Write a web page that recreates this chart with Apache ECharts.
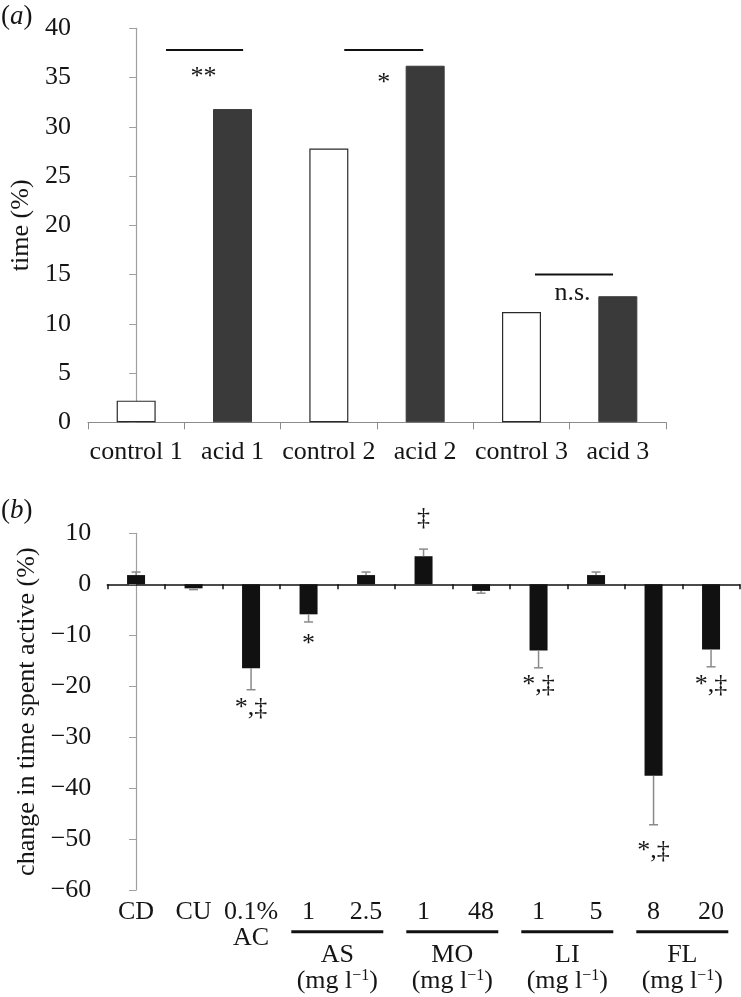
<!DOCTYPE html>
<html>
<head>
<meta charset="utf-8">
<script src="https://cdn.jsdelivr.net/npm/echarts@6/dist/echarts.min.js"></script>
<style>
html,body{margin:0;padding:0;background:#fff;}
#c{width:741px;height:997px;}
</style>
</head>
<body>
<div id="c"></div>
<script>
// ---------- Panel (a) data ----------
const catsA = ['control 1', 'acid 1', 'control 2', 'acid 2', 'control 3', 'acid 3'];
const valuesA = [2.2, 31.8, 27.8, 36.2, 11.2, 12.8];
const isAcidA = [false, true, false, true, false, true];
const yTicksA = { min: 0, max: 40, interval: 5 };
// significance bars: [xStart, xEnd, y] in category-index units
const sigLinesA = [[0.31, 1.11, 37.8], [2.16, 2.98, 37.8], [4.14, 4.95, 15.0]];
const sigTextA = ['**', '*', 'n.s.'];
const sigTextXA = [0.70, 2.57, 4.53];
const sigTextYA = [35.0, 34.4, 13.1];

// ---------- Panel (b) data ----------
const catsB = ['CD', 'CU', '0.1%', '1', '2.5', '1', '48', '1', '5', '8', '20'];
const subLabelsB = ['', '', 'AC', '', '', '', '', '', '', '', ''];
const valuesB = [1.8, -0.8, -16.5, -5.9, 1.8, 5.5, -1.3, -13.0, 1.8, -37.6, -12.8];
const errorsB = [0.6, 0.25, 4.2, 1.5, 0.6, 1.4, 0.45, 3.4, 0.6, 9.6, 3.4];
const yTicksB = { min: -60, max: 10, interval: 10 };
const sigIdxB = [2, 3, 5, 7, 9, 10];
const sigTextB = ['*,‡', '*', '‡', '*,‡', '*,‡', '*,‡'];
const sigYB = [-24.3, -11.8, 13.0, -19.8, -52.4, -19.8];
const groupNames = ['AS', 'MO', 'LI', 'FL'];
const groupCenters = [3.5, 5.5, 7.5, 9.5];
const groupHalfWidth = 0.8;
const groupUnit = '(mg l{sup|−1})';
const groupLineY = -68.2;
const groupNameY = -72.8;
const groupUnitY = -77.9;

const FONT = '"Liberation Serif", "Times New Roman", serif';
const FS = 26;
const TXT = '#151515';
const rich = {
  sup: { fontFamily: FONT, fontSize: 16, fill: TXT, color: TXT, verticalAlign: 'top' },
  i: { fontFamily: FONT, fontSize: 27, fontStyle: 'italic', fill: TXT, color: TXT }
};

const chart = echarts.init(document.getElementById('c'), null, { renderer: 'canvas' });

// text annotation series built from [x, y] pairs and a list of strings
function textSeries(xAxisIndex, yAxisIndex, xs, ys, texts) {
  return {
    type: 'custom', xAxisIndex: xAxisIndex, yAxisIndex: yAxisIndex, silent: true, clip: false, z: 5,
    data: xs.map((x, i) => [x, ys[i]]),
    renderItem: function (params, api) {
      const p = api.coord([api.value(0), api.value(1)]);
      return {
        type: 'text', x: p[0], y: p[1],
        style: {
          text: texts[params.dataIndex],
          fontFamily: FONT, fontSize: FS, fill: TXT,
          align: 'center', verticalAlign: 'middle',
          textAlign: 'center', textVerticalAlign: 'middle',
          rich: rich
        }
      };
    }
  };
}

const series = [];

// Panel a bars
series.push({
  type: 'bar', xAxisIndex: 0, yAxisIndex: 0, barWidth: 39, silent: true,
  data: valuesA.map((v, i) => ({
    value: v,
    itemStyle: isAcidA[i]
      ? { color: '#3a3a3a', borderColor: '#3a3a3a', borderWidth: 1 }
      : { color: '#ffffff', borderColor: '#2a2a2a', borderWidth: 1.2 }
  }))
});
// Panel a significance lines
sigLinesA.forEach(s => {
  series.push({
    type: 'line', xAxisIndex: 1, yAxisIndex: 0, symbol: 'none', silent: true,
    lineStyle: { color: '#111', width: 2 },
    data: [[s[0], s[2]], [s[1], s[2]]]
  });
});
series.push(textSeries(1, 0, sigTextXA, sigTextYA, sigTextA));

// Panel b bars
series.push({
  type: 'bar', xAxisIndex: 2, yAxisIndex: 1, barWidth: 18, silent: true,
  itemStyle: { color: '#111111' },
  data: valuesB
});
// Panel b error bars (one-sided, outward)
series.push({
  type: 'custom', xAxisIndex: 2, yAxisIndex: 1, silent: true, z: 3,
  data: valuesB.map((v, i) => [i, v, v >= 0 ? v + errorsB[i] : v - errorsB[i]]),
  renderItem: function (params, api) {
    const x = api.value(0);
    const p0 = api.coord([x, api.value(1)]);
    const p1 = api.coord([x, api.value(2)]);
    const hw = 4.5;
    const st = { stroke: '#8a8a8a', lineWidth: 1.5 };
    return {
      type: 'group',
      children: [
        { type: 'line', shape: { x1: p0[0], y1: p0[1], x2: p1[0], y2: p1[1] }, style: st },
        { type: 'line', shape: { x1: p1[0] - hw, y1: p1[1], x2: p1[0] + hw, y2: p1[1] }, style: st }
      ]
    };
  }
});
// Panel b significance symbols
series.push(textSeries(2, 1, sigIdxB, sigYB, sigTextB));
// Panel b group underlines
groupCenters.forEach(c => {
  series.push({
    type: 'line', xAxisIndex: 4, yAxisIndex: 1, symbol: 'none', silent: true, clip: false,
    lineStyle: { color: '#111', width: 3 },
    data: [[c - groupHalfWidth, groupLineY], [c + groupHalfWidth, groupLineY]]
  });
});
// Panel b group names and units
series.push(textSeries(4, 1, groupCenters, groupCenters.map(() => groupNameY), groupNames));
series.push(textSeries(4, 1, groupCenters, groupCenters.map(() => groupUnitY), groupCenters.map(() => groupUnit)));

const minusFmt = v => (v < 0 ? '\u2212' + Math.abs(v) : String(v));

const option = {
  animation: false,
  backgroundColor: '#ffffff',
  textStyle: { fontFamily: FONT },
  grid: [
    { left: 87, right: 75, top: 28.3, bottom: 997 - 422.3 },
    { left: 107.3, right: 1.2, top: 533.3, bottom: 997 - 890 }
  ],
  xAxis: [
    { // 0: panel a categories
      type: 'category', gridIndex: 0, data: catsA,
      axisLine: { lineStyle: { color: '#8c8c8c', width: 1.2 } },
      axisTick: { show: true, length: 7, lineStyle: { color: '#8c8c8c' } },
      axisLabel: { fontFamily: FONT, fontSize: FS, color: TXT, margin: 17, interval: 0 },
      splitLine: { show: false }
    },
    { // 1: panel a hidden value axis for annotations
      type: 'value', gridIndex: 0, min: -0.5, max: 5.5, show: false
    },
    { // 2: panel b categories, axis line at zero
      type: 'category', gridIndex: 1, data: catsB,
      axisLine: { onZero: true, lineStyle: { color: '#111', width: 1.5 } },
      axisTick: { show: true, length: 5, inside: false, lineStyle: { color: '#111', width: 1.5 } },
      axisLabel: { show: false },
      splitLine: { show: false }
    },
    { // 3: panel b labels at bottom
      type: 'category', gridIndex: 1, data: catsB, position: 'bottom',
      axisLine: { show: false, onZero: false },
      axisTick: { show: false },
      axisLabel: {
        fontFamily: FONT, fontSize: FS, color: TXT, margin: 9, interval: 0, lineHeight: 26,
        formatter: (v, i) => (subLabelsB[i] ? v + '\n' + subLabelsB[i] : v)
      },
      splitLine: { show: false }
    },
    { // 4: panel b hidden value axis for group annotations
      type: 'value', gridIndex: 1, min: -0.5, max: 10.5, show: false
    }
  ],
  yAxis: [
    {
      type: 'value', gridIndex: 0, min: yTicksA.min, max: yTicksA.max, interval: yTicksA.interval,
      name: 'time (%)', nameLocation: 'middle', nameGap: 54,
      nameTextStyle: { fontFamily: FONT, fontSize: FS, color: TXT },
      axisLine: { show: true, lineStyle: { color: '#a0a0a0', width: 1.2 } },
      axisTick: { show: true, length: 7, lineStyle: { color: '#a0a0a0' } },
      axisLabel: { fontFamily: FONT, fontSize: FS, color: TXT, margin: 17 },
      splitLine: { show: false }
    },
    {
      type: 'value', gridIndex: 1, min: yTicksB.min, max: yTicksB.max, interval: yTicksB.interval,
      name: 'change in time spent active (%)', nameLocation: 'middle', nameGap: 66,
      nameTextStyle: { fontFamily: FONT, fontSize: FS, color: TXT },
      axisLine: { show: true, lineStyle: { color: '#a0a0a0', width: 1.2 } },
      axisTick: { show: true, length: 7, lineStyle: { color: '#a0a0a0' } },
      axisLabel: { fontFamily: FONT, fontSize: FS, color: TXT, margin: 16, formatter: minusFmt },
      splitLine: { show: false }
    }
  ],
  graphic: [
    {
      type: 'text', left: 1, top: 3,
      style: { text: '({i|a})', fontFamily: FONT, fontSize: 27, fill: TXT, rich: rich }
    },
    {
      type: 'text', left: 1, top: 497,
      style: { text: '({i|b})', fontFamily: FONT, fontSize: 27, fill: TXT, rich: rich }
    }
  ],
  series: series
};

chart.setOption(option);
</script>
</body>
</html>
